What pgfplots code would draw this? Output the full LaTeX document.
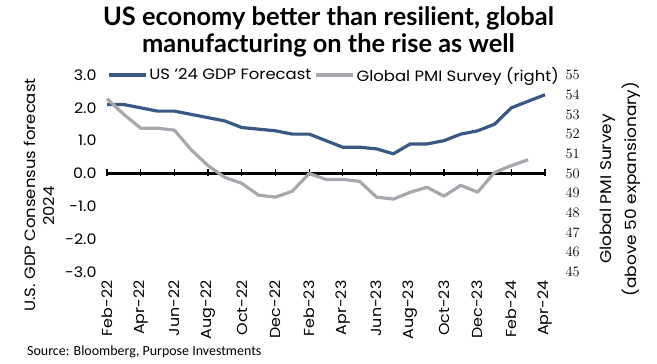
\documentclass[border=0pt]{standalone}
\usepackage{fontspec}
\setmainfont{Poppins}[FakeStretch=1.1]
\newfontfamily\titlefont{Lato}
\newfontfamily\srcfont{Carlito}
\usepackage{pgfplots}
\usepackage{pgfplotstable}
\pgfplotsset{compat=1.18}
\definecolor{gdpblue}{RGB}{57,89,130}
\definecolor{pmigray}{RGB}{165,169,173}

\pgfplotstableread{
x y
0 2.1
1 2.1
2 2.0
3 1.9
4 1.9
5 1.8
6 1.7
7 1.6
8 1.4
9 1.35
10 1.3
11 1.2
12 1.2
13 1.0
14 0.8
15 0.8
16 0.75
17 0.6
18 0.9
19 0.9
20 1.0
21 1.2
22 1.3
23 1.5
24 2.0
25 2.2
26 2.4
}\gdptable

\pgfplotstableread{
x y
0 53.8
1 53.0
2 52.3
3 52.3
4 52.2
5 51.2
6 50.4
7 49.8
8 49.5
9 48.9
10 48.8
11 49.1
12 50.0
13 49.7
14 49.7
15 49.6
16 48.8
17 48.7
18 49.05
19 49.3
20 48.85
21 49.4
22 49.05
23 50.05
24 50.4
25 50.7
}\pmitable

\begin{document}
\begin{tikzpicture}
\useasboundingbox (0bp,0bp) rectangle (657bp,364bp);
\node[font=\titlefont\bfseries\fontsize{25.5}{27}\selectfont, align=center] at (328.5bp,332.5bp) {US economy better than resilient, global\\manufacturing on the rise as well};
\node[font=\srcfont\fontsize{14}{16}\selectfont, anchor=west, inner sep=0pt] at (27bp,12bp) {Source: Bloomberg, Purpose Investments};
% zero line
\draw[black, line width=2.2bp] (107bp,190.5bp) -- (545bp,190.5bp);
\foreach \i in {0,2,...,26} {
  \draw[black, line width=1.3bp] ({(107+\i*438/26)*1bp},188bp) -- ({(107+\i*438/26)*1bp},195bp);
}
\node[rotate=90, font=\fontsize{15}{17}\selectfont] at (30bp,169bp) {U.S. GDP Consensus forecast};
\node[rotate=90, font=\fontsize{15}{17}\selectfont] at (49bp,158bp) {2024};
\node[rotate=90, font=\fontsize{15.5}{25}\selectfont, align=center] at (620bp,175bp) {Global PMI Survey\\(above 50 expansionary)};

\begin{axis}[
  at={(107bp,92bp)}, anchor=south west, scale only axis,
  width=438bp, height=197bp,
  xmin=0, xmax=26, ymin=-3, ymax=3,
  axis lines*=left, axis line style={draw=none}, tick style={draw=none},
  xtick={0,2,...,26},
  xticklabels={Feb-22,Apr-22,Jun-22,Aug-22,Oct-22,Dec-22,Feb-23,Apr-23,Jun-23,Aug-23,Oct-23,Dec-23,Feb-24,Apr-24},
  x tick label style={rotate=90, anchor=east, font=\fontsize{14.5}{16}\selectfont},
  xticklabel shift=5bp,
  ytick={-3,-2,-1,0,1,2,3},
  yticklabels={-3.0,-2.0,-1.0,0.0,1.0,2.0,3.0},
  y tick label style={font=\fontsize{14.5}{16}\selectfont},
  yticklabel shift=7bp,
  clip=false,
  legend style={at={(axis description cs:0,1)}, anchor=west, draw=none, fill=none,
    font=\fontsize{15}{17}\selectfont, inner sep=0pt,
    /tikz/every even column/.append style={column sep=1bp}},
  legend columns=2,
  legend image code/.code={\draw[#1] (0bp,0bp) -- (37bp,0bp);},
]
\addplot[gdpblue, line width=3.2bp, line join=round] table[x=x,y=y] {\gdptable};
\addlegendentry{US '24 GDP Forecast}
\addlegendimage{pmigray, line width=3.2bp}
\addlegendentry{Global PMI Survey (right)}
\end{axis}

\begin{axis}[
  at={(107bp,92bp)}, anchor=south west, scale only axis,
  width=438bp, height=197bp,
  xmin=0, xmax=26, ymin=45, ymax=55,
  axis lines*=right, axis line style={draw=none}, tick style={draw=none},
  xtick=\empty,
  ytick={45,46,...,55},
  y tick label style={font=\fontsize{14.5}{16}\selectfont},
  yticklabel shift=17bp,
  clip=false,
]
\addplot[pmigray, line width=3.2bp, line join=round] table[x=x,y=y] {\pmitable};
\end{axis}
\end{tikzpicture}
\end{document}
